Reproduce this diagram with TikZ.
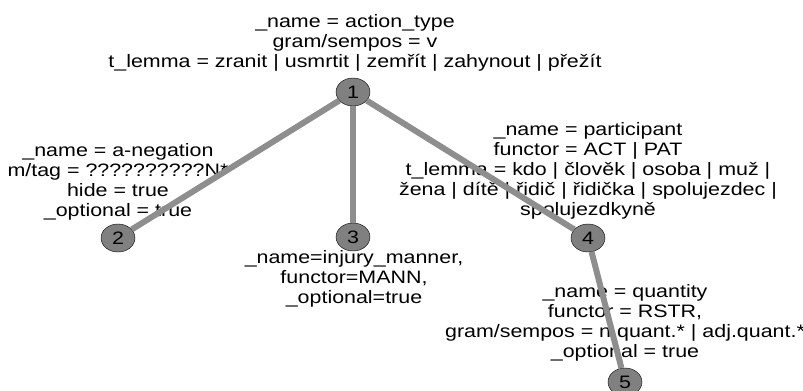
\documentclass[tikz,border=0pt]{standalone}
\usepackage{fontspec}
\setmainfont{Liberation Sans}
\newfontfamily\treefont{Liberation Sans}[FakeStretch=1.19]
\usetikzlibrary{shapes.geometric}

\definecolor{linkgray}{HTML}{8E8E8E}
\definecolor{dotgray}{HTML}{808080}

\begin{document}
\begin{tikzpicture}[x=1bp, y=-1bp,
    tnode/.style={ellipse, draw=black, fill=dotgray, minimum width=34bp, minimum height=28bp, inner sep=0pt, font=\treefont\fontsize{18bp}{20bp}\selectfont},
    attr/.style={align=center, inner sep=0pt, anchor=base, font=\treefont\fontsize{18bp}{20bp}\selectfont},
    link/.style={linkgray, line width=6bp}]
    \useasboundingbox (0,0) rectangle (803,390);

    % Attribute labels (placed by the baseline of their last line)
    \node[attr] (a1) at (355,67) {\_name = action\_type\\gram/sempos = v\\t\_lemma = zranit | usmrtit | zemřít | zahynout | přežít};
    \node[attr] (a2) at (118,216) {\_name = a-negation\\m/tag = ??????????N*\\hide = true\\\_optional = true};
    \node[attr] (a3) at (354,303) {\_name=injury\_manner,\\functor=MANN,\\\_optional=true};
    \node[attr] (a4) at (588,215) {\_name = participant\\functor = ACT | PAT\\t\_lemma = kdo | člověk | osoba | muž |\\žena | dítě | řidič | řidička | spolujezdec |\\spolujezdkyně};
    \node[attr] (a5) at (625,357) {\_name = quantity\\functor = RSTR,\\gram/sempos = n.quant.* | adj.quant.*\\\_optional = true};

    % Tree nodes
    \node[tnode] (n1) at (353,92) {1}; % action
    \node[tnode] (n2) at (118,238) {2}; % negation
    \node[tnode] (n3) at (353,237) {3}; % manner
    \node[tnode] (n4) at (588,238) {4}; % participant
    \node[tnode] (n5) at (625,382) {5}; % quantity

    % Edges
    \draw[link] (n1) -- (n2);
    \draw[link] (n1) -- (n3);
    \draw[link] (n1) -- (n4);
    \draw[link] (n4) -- (n5);
\end{tikzpicture}
\end{document}
